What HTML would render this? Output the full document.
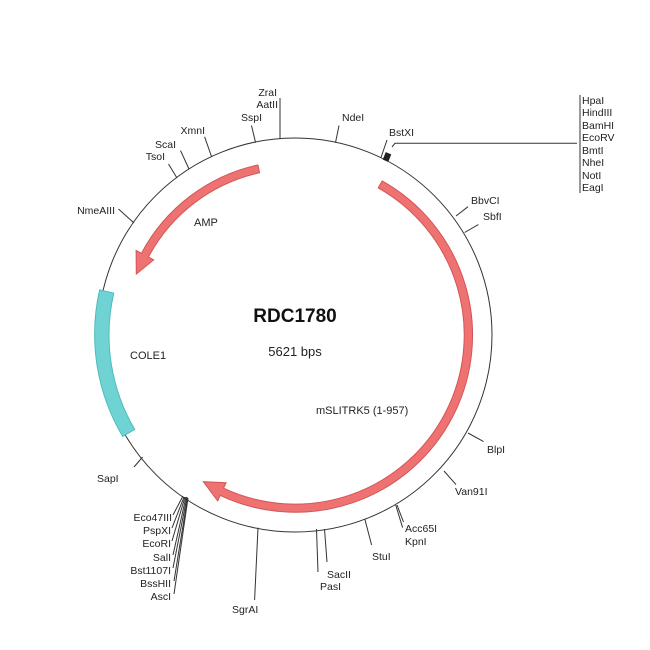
<!DOCTYPE html>
<html><head><meta charset="utf-8"><style>
html,body{margin:0;padding:0;background:#fff;}
svg{display:block;}
text{font-family:"Liberation Sans",sans-serif;font-size:10.5px;fill:#222;}
</style></head><body>
<svg width="650" height="650" viewBox="0 0 650 650" xmlns="http://www.w3.org/2000/svg">
<circle cx="295" cy="335" r="197" fill="none" stroke="#333" stroke-width="1"/>
<!-- teal COLE1 -->
<path d="M99.6,289.9 A200,200 0 0 0 122.7,436.4 L134.7,429.4 A186,186 0 0 1 113.8,293.1 Z" fill="#6fd3d3" stroke="#4fbcbc" stroke-width="1"/>
<!-- big red arrow -->
<path d="M382.2,180.9 A177,177 0 0 1 220.2,495.4 L217.7,500.9 L203.3,481.7 L226.1,482.7 L223.6,488.2 A169,169 0 0 0 378.2,187.9 Z" fill="#ef7272" stroke="#d55555" stroke-width="1"/>
<!-- AMP arrow -->
<path d="M257.9,165 A174,174 0 0 0 141.4,253.3 L136.1,250.5 L136.3,274.1 L153.7,259.9 L148.4,257.1 A166,166 0 0 1 259.6,172.8 Z" fill="#ef7272" stroke="#d55555" stroke-width="1"/>
<g stroke="#333" stroke-width="1" fill="none">
<line x1="280" y1="138.5" x2="280" y2="98"/>
<line x1="255.6" y1="142.7" x2="251.5" y2="125.5"/>
<line x1="335.5" y1="142.7" x2="339" y2="125.5"/>
<line x1="211.5" y1="156.5" x2="204.6" y2="136.8"/>
<line x1="189" y1="169" x2="180.5" y2="150.6"/>
<line x1="177" y1="178" x2="168.5" y2="164"/>
<line x1="134" y1="223" x2="118.5" y2="209"/>
<line x1="381" y1="157.5" x2="387" y2="140"/>
<polyline points="392,147 395,143.3 577,143.3"/>
<line x1="580" y1="95" x2="580" y2="193"/>
<line x1="456" y1="216" x2="468" y2="206.7"/>
<line x1="464.6" y1="232.5" x2="478.4" y2="224.6"/>
<line x1="468" y1="433" x2="483.6" y2="441.6"/>
<line x1="444" y1="471" x2="456" y2="484.6"/>
<line x1="395.7" y1="505" x2="402.6" y2="527.6"/>
<line x1="397" y1="505" x2="403.5" y2="522"/>
<line x1="364.8" y1="519" x2="371.6" y2="545"/>
<line x1="316.5" y1="529" x2="318" y2="572"/>
<line x1="324.5" y1="529" x2="327" y2="562"/>
<line x1="258" y1="527.7" x2="254.6" y2="600"/>
<line x1="142.6" y1="457" x2="134" y2="467"/>
<line x1="183" y1="496" x2="173" y2="515"/>
<line x1="184" y1="497" x2="172" y2="528"/>
<line x1="185" y1="497" x2="172" y2="541"/>
<line x1="186" y1="497" x2="173" y2="555"/>
<line x1="187" y1="497" x2="173" y2="568"/>
<line x1="187.5" y1="498" x2="174" y2="581"/>
<line x1="188" y1="498" x2="174" y2="594"/>
</g>
<rect x="384" y="153" width="6" height="8" fill="#222" transform="rotate(22 387 157)"/>
<text x="295" y="322" text-anchor="middle" style="font-size:19px;font-weight:bold;fill:#111">RDC1780</text>
<text x="295" y="356" text-anchor="middle" style="font-size:13px">5621 bps</text>
<text x="130" y="359" style="font-size:11px">COLE1</text>
<text x="194" y="226" style="font-size:11px">AMP</text>
<text x="316" y="414" style="font-size:11px">mSLITRK5 (1-957)</text>
<text x="277" y="96" text-anchor="end">ZraI</text>
<text x="278" y="108" text-anchor="end">AatII</text>
<text x="262" y="121" text-anchor="end">SspI</text>
<text x="342" y="121">NdeI</text>
<text x="205" y="134" text-anchor="end">XmnI</text>
<text x="176" y="148" text-anchor="end">ScaI</text>
<text x="165" y="160" text-anchor="end">TsoI</text>
<text x="115" y="214" text-anchor="end">NmeAIII</text>
<text x="389" y="136">BstXI</text>
<text x="582" y="104">HpaI</text>
<text x="582" y="116">HindIII</text>
<text x="582" y="129">BamHI</text>
<text x="582" y="141">EcoRV</text>
<text x="582" y="154">BmtI</text>
<text x="582" y="166">NheI</text>
<text x="582" y="179">NotI</text>
<text x="582" y="191">EagI</text>
<text x="471" y="204">BbvCI</text>
<text x="483" y="220">SbfI</text>
<text x="487" y="453">BlpI</text>
<text x="455" y="495">Van91I</text>
<text x="405" y="532">Acc65I</text>
<text x="405" y="545">KpnI</text>
<text x="372" y="560">StuI</text>
<text x="327" y="578">SacII</text>
<text x="320" y="590">PasI</text>
<text x="232" y="613">SgrAI</text>
<text x="97" y="482">SapI</text>
<text x="172" y="521" text-anchor="end">Eco47III</text>
<text x="171" y="534" text-anchor="end">PspXI</text>
<text x="171" y="547" text-anchor="end">EcoRI</text>
<text x="171" y="561" text-anchor="end">SalI</text>
<text x="171" y="574" text-anchor="end">Bst1107I</text>
<text x="171" y="587" text-anchor="end">BssHII</text>
<text x="171" y="600" text-anchor="end">AscI</text>
</svg>
</body></html>
